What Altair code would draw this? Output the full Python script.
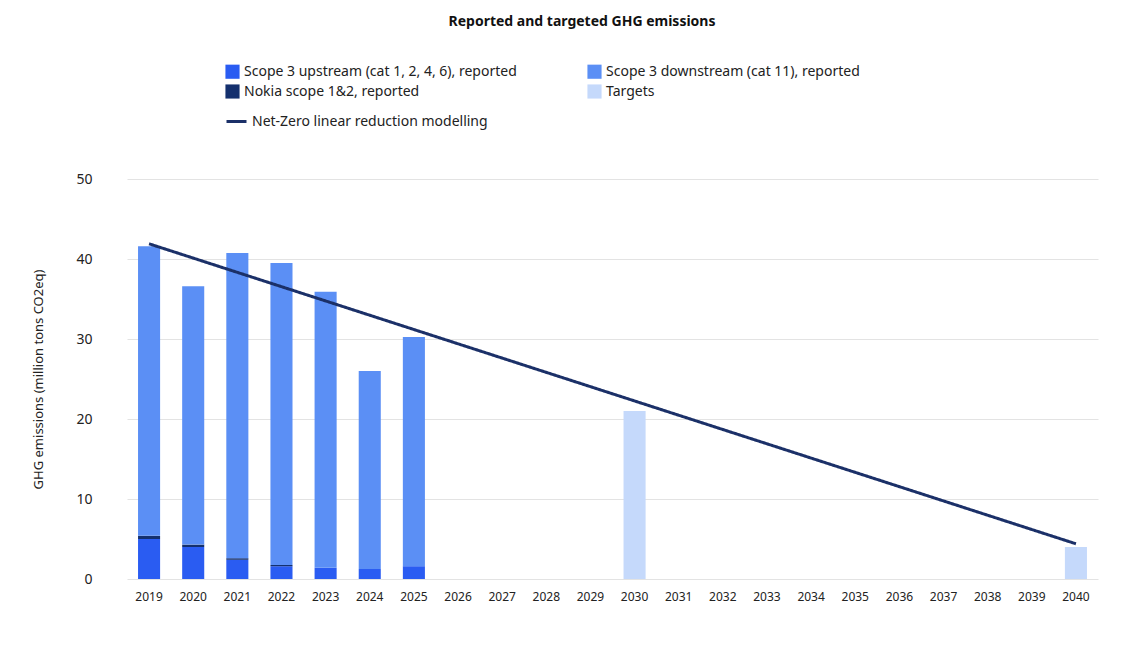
import altair as alt
import pandas as pd

years = [str(y) for y in range(2019, 2041)]
rep_years = ["2019", "2020", "2021", "2022", "2023", "2024", "2025"]
upstream = [5.0, 4.0, 2.4, 1.6, 1.4, 1.25, 1.6]
scope12 = [0.4, 0.3, 0.2, 0.15, 0.0, 0.0, 0.0]
totals = [41.6, 36.6, 40.75, 39.5, 35.9, 26.0, 30.25]
target_years = ["2030", "2040"]
targets = [21.0, 4.0]
line_years = ["2019", "2040"]
line_vals = [41.9, 4.4]

S_UP = "Scope 3 upstream (cat 1, 2, 4, 6), reported"
S_12 = "Nokia scope 1&2, reported"
S_DN = "Scope 3 downstream (cat 11), reported"
S_T = "Targets"
cats = [S_UP, S_12, S_DN, S_T]
colors = ["#2a5cf2", "#14306e", "#5b8ff5", "#c5d9fb"]

rows = []
for y, u, s, t in zip(rep_years, upstream, scope12, totals):
    rows.append({"year": y, "series": S_UP, "v": u, "o": 0})
    rows.append({"year": y, "series": S_12, "v": s, "o": 1})
    rows.append({"year": y, "series": S_DN, "v": round(t - u - s, 2), "o": 2})
for y, t in zip(target_years, targets):
    rows.append({"year": y, "series": S_T, "v": t, "o": 3})
bars_df = pd.DataFrame(rows)
line_df = pd.DataFrame({"year": line_years, "v": line_vals,
                        "s": ["Net-Zero linear reduction modelling"] * 2})

xenc = alt.X("year:N", scale=alt.Scale(domain=years, paddingInner=0.5, paddingOuter=0.25),
             axis=alt.Axis(title=None, labelAngle=0, labelFontSize=12, labelPadding=12,
                           ticks=False, domain=False, labelColor="#222", labelFont="Noto Sans"))

bars = alt.Chart(bars_df).mark_bar().encode(
    x=xenc,
    y=alt.Y("sum(v):Q", stack="zero",
            scale=alt.Scale(domain=[0, 50]),
            axis=alt.Axis(title="GHG emissions (million tons CO2eq)", values=[0, 10, 20, 30, 40, 50],
                          titleFontSize=13, titleFontWeight="normal", titleColor="#222",
                          titlePadding=30, labelFontSize=14, labelPadding=35, labelColor="#222",
                          ticks=False, domain=False, gridColor="#e3e3e3", titleFont="Noto Sans",
                          labelFont="Noto Sans")),
    color=alt.Color("series:N", scale=alt.Scale(domain=cats, range=colors),
                    legend=alt.Legend(title=None, orient="none", legendX=98, legendY=-115,
                                      values=cats, columns=2, columnPadding=70, rowPadding=5,
                                      symbolType="square", symbolSize=200, labelLimit=0,
                                      labelFontSize=14, labelColor="#222", labelFont="Noto Sans",
                                      symbolStrokeWidth=0)),
    order=alt.Order("o:Q"),
)

line = alt.Chart(line_df).mark_line(color="#1b3068", strokeWidth=3).encode(
    x=alt.X("year:N", scale=alt.Scale(domain=years)),
    y="v:Q",
    strokeDash=alt.StrokeDash("s:N", legend=alt.Legend(title=None, orient="none", legendX=98,
                                                       legendY=-69, labelFontSize=14, labelLimit=0,
                                                       labelColor="#222", labelFont="Noto Sans",
                                                       symbolStrokeColor="#1b3068",
                                                       symbolStrokeWidth=3, symbolSize=400)),
)

title = alt.Chart(pd.DataFrame({"t": ["Reported and targeted GHG emissions"]})).mark_text(
    fontSize=14, fontWeight="bold", font="Noto Sans", color="#111"
).encode(text="t:N", x=alt.value(455), y=alt.value(-157))

chart = alt.layer(bars, line, title).properties(
    width=971, height=400, autosize=alt.AutoSizeParams(type="none"),
    padding={"left": 119, "top": 171, "right": 10, "bottom": 50}
).configure_view(stroke=None)

chart.save("out.html", embed_options={"renderer": "svg", "actions": False})
